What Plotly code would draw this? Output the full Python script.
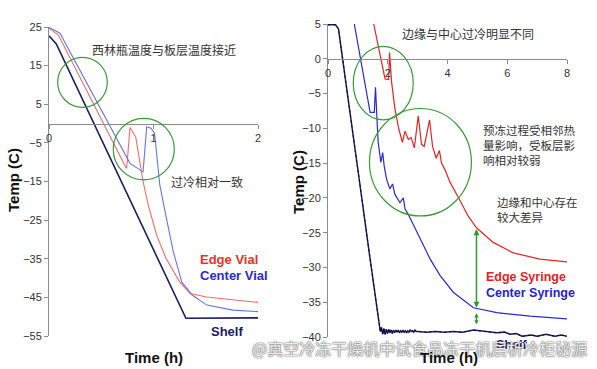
import plotly.graph_objects as go

# ---------------- data: left chart (vials) ----------------
vial_edge_t = [0, 0.09, 0.74, 0.745, 0.775, 0.83, 0.90, 0.95, 1.03, 1.12, 1.25, 1.35, 1.51, 1.76, 2.0]
vial_edge_T = [24.7, 22.9, -11.6, -11.0, -1.0, -3.5, -15.0, -21.1, -28.9, -34.9, -41.0, -44.0, -44.9, -45.7, -46.3]

vial_center_t = [0, 0.105, 0.775, 0.90, 0.935, 0.976, 1.01, 1.06, 1.13, 1.19, 1.27, 1.37, 1.51, 1.76, 2.0]
vial_center_T = [24.9, 23.4, -10.3, -12.5, -0.8, -1.2, -2.5, -15.9, -25.4, -33.2, -41.0, -44.4, -47.0, -48.3, -48.7]

vial_shelf_t = [0, 0.07, 1.31, 2.0]
vial_shelf_T = [22.7, 20.6, -50.4, -50.3]

# ---------------- data: right chart (syringes) ----------------
syr_edge_t = [1.53, 1.91, 2.03, 2.06, 2.13, 2.24, 2.37, 2.49, 2.58, 2.69, 2.78, 2.89, 3.02, 3.13, 3.22,
              3.40, 3.50, 3.62, 3.73, 3.80, 3.91, 4.08, 4.36, 4.69, 4.97, 5.53, 6.2, 7.09, 8.0]
syr_edge_T = [5.0, -2.9, -3.0, 0.9, -3.4, -7.2, -10.1, -12.0, -10.4, -11.6, -11.3, -12.8, -8.2, -12.3, -12.6,
              -8.8, -12.6, -14.3, -13.2, -15.0, -15.9, -17.7, -19.9, -22.6, -24.3, -26.4, -27.9, -28.8, -29.2]

syr_center_t = [0.88, 1.41, 1.55, 1.59, 1.65, 1.68, 1.77, 1.83, 1.88, 1.96, 2.07, 2.16, 2.24, 2.41, 2.52,
                2.58, 2.69, 3.09, 3.42, 3.76, 4.2, 4.87, 5.65, 6.77, 8.0]
syr_center_T = [5.0, -7.7, -7.7, -4.1, -9.6, -12.0, -14.9, -13.5, -15.4, -17.3, -18.7, -18.0, -19.5, -20.7, -20.0,
                -21.6, -22.4, -25.9, -28.8, -31.2, -33.6, -35.8, -36.5, -37.0, -37.4]

syr_shelf_t = [0, 0.25, 0.35, 0.74, 1.05, 1.40, 1.75,
               1.79, 1.83, 1.87, 1.91, 1.95, 1.99, 2.03, 2.07, 2.11, 2.15, 2.19, 2.23, 2.27, 2.31, 2.35,
               2.39, 2.43, 2.47, 2.51, 2.55, 2.59, 2.63, 2.67, 2.71, 2.75, 2.79, 2.83, 2.87, 2.91, 2.95, 3.0,
               3.3, 3.6, 3.9, 4.2, 4.5, 4.87, 5.2, 5.65, 5.9, 6.1, 6.3, 6.5, 6.8, 7.0, 7.3, 7.6, 7.8, 8.0]
syr_shelf_T = [4.9, 4.9, 4.3, -7.5, -17.5, -28.5, -39.2,
               -38.6, -39.6, -38.8, -39.6, -38.9, -39.5, -38.9, -39.4, -39.0, -39.5, -39.0, -39.4, -39.0, -39.3, -39.0,
               -39.4, -39.1, -39.3, -39.0, -39.3, -39.1, -39.4, -39.1, -39.3, -39.0, -39.2, -39.1, -39.3, -39.0, -39.2, -39.2,
               -39.3, -39.2, -39.3, -39.2, -39.3, -39.0, -39.2, -39.4, -39.3, -39.6, -39.5, -39.9, -39.7, -39.9, -39.6, -39.9, -39.7, -39.9]

# gap arrows (time, from-temp, to-temp)
gap_t = 4.97
gap1 = [-24.5, -36.0]
gap2 = [-36.6, -38.4]

left_xticks = [0, 1, 2]
left_yticks = [25, 15, 5, -5, -15, -25, -35, -45, -55]
right_xticks = [0, 2, 4, 6, 8]
right_yticks = [5, 0, -5, -10, -15, -20, -25, -30, -35, -40]

# ---------------- layout helpers ----------------
W, H = 597, 369
def PX(x):
    return x / W
def PY(y):
    return 1 - y / H

L_xdom = [PX(49), PX(258)]
L_ydom = [PY(336), PY(27)]
L_yr = [-55, 25]
R_xdom = [PX(328), PX(567)]
R_ydom = [PY(337), PY(24)]
R_yr = [-40, 5]

def zero_pos(dom, rng):
    return dom[0] + (0 - rng[0]) / (rng[1] - rng[0]) * (dom[1] - dom[0])

RED_L = "#ef6b6b"
BLUE_L = "#6676e6"
NAVY = "#1d1d64"
RED_R = "#e02626"
BLUE_R = "#2a2ad2"
GREEN = "#3b9a3b"
AX = "#8c8c8c"
FONT = "Arial, Liberation Sans, sans-serif"
CJK = "Noto Sans CJK SC, sans-serif"

fig = go.Figure()
fig.add_trace(go.Scatter(x=vial_shelf_t, y=vial_shelf_T, mode="lines", line=dict(color=NAVY, width=1.6), xaxis="x", yaxis="y"))
fig.add_trace(go.Scatter(x=vial_edge_t, y=vial_edge_T, mode="lines", line=dict(color=RED_L, width=1.1), xaxis="x", yaxis="y"))
fig.add_trace(go.Scatter(x=vial_center_t, y=vial_center_T, mode="lines", line=dict(color=BLUE_L, width=1.1), xaxis="x", yaxis="y"))

fig.add_trace(go.Scatter(x=syr_shelf_t, y=syr_shelf_T, mode="lines", line=dict(color=NAVY, width=1.5), xaxis="x2", yaxis="y2"))
fig.add_trace(go.Scatter(x=syr_shelf_t, y=syr_shelf_T, mode="lines", line=dict(color="#05051a", width=1.0, dash="2px,3px"), xaxis="x2", yaxis="y2"))
fig.add_trace(go.Scatter(x=syr_edge_t, y=syr_edge_T, mode="lines", line=dict(color=RED_R, width=1.2), xaxis="x2", yaxis="y2"))
fig.add_trace(go.Scatter(x=syr_center_t, y=syr_center_T, mode="lines", line=dict(color=BLUE_R, width=1.2), xaxis="x2", yaxis="y2"))

axis_common = dict(showgrid=False, zeroline=False, showline=True, linecolor=AX, linewidth=1,
                   ticks="outside", ticklen=4, tickcolor=AX, tickwidth=1, automargin=False,
                   tickfont=dict(family=FONT, size=11, color="#333333"))

fig.update_layout(
    width=W, height=H, margin=dict(l=0, r=0, t=0, b=0, pad=0, autoexpand=False),
    paper_bgcolor="white", plot_bgcolor="rgba(0,0,0,0)", showlegend=False,
    xaxis=dict(domain=L_xdom, range=[0, 2], tickvals=left_xticks, anchor="free",
               position=zero_pos(L_ydom, L_yr), **axis_common),
    yaxis=dict(domain=L_ydom, range=L_yr, tickvals=left_yticks, anchor="x", **axis_common),
    xaxis2=dict(domain=R_xdom, range=[0, 8], tickvals=right_xticks, anchor="free",
                position=zero_pos(R_ydom, R_yr), **axis_common),
    yaxis2=dict(domain=R_ydom, range=R_yr, tickvals=right_yticks, anchor="x2", **axis_common),
)

# circles (data coordinates)
circles = [
    ("x", "y", 0.083, 0.558, 4.2, 17.15),
    ("x", "y", 0.615, 1.199, -14.6, 1.35),
    ("x2", "y2", 0.846, 2.853, -8.78, 1.77),
    ("x2", "y2", 1.388, 4.80, -22.6, -7.15),
]
for xr, yr, x0, x1, y0, y1 in circles:
    fig.add_shape(type="circle", xref=xr, yref=yr, x0=x0, x1=x1, y0=y0, y1=y1,
                  line=dict(color=GREEN, width=1.2))

# double-headed gap arrows
for (a, b), sz in ((gap1, 0.8), (gap2, 0.55)):
    fig.add_annotation(x=gap_t, y=a, ax=gap_t, ay=b, xref="x2", yref="y2", axref="x2", ayref="y2",
                       text="", showarrow=True, arrowhead=2, arrowsize=sz, arrowwidth=1.5,
                       arrowcolor="#2f9a2f", arrowside="end+start", standoff=0, startstandoff=0)

def txt(text, x, y, size, color, family, bold=False, xanchor="center", yanchor="middle", align="center", angle=0):
    if bold:
        text = "<b>" + text + "</b>"
    fig.add_annotation(x=PX(x), y=PY(y), xref="paper", yref="paper", text=text, showarrow=False,
                       xanchor=xanchor, yanchor=yanchor, align=align, textangle=angle,
                       font=dict(family=family, size=size, color=color))

txt("西林瓶温度与板层温度接近", 164, 50, 12, "#333333", CJK)
txt("过冷相对一致", 207, 181, 12, "#333333", CJK)
txt("Edge Vial", 198, 259, 13, "#e8322c", FONT, bold=True, xanchor="left")
txt("Center Vial", 198, 275, 13, "#2b2bd0", FONT, bold=True, xanchor="left")
txt("Shelf", 209, 331, 13, "#1b1b5e", FONT, bold=True, xanchor="left")

txt("边缘与中心过冷明显不同", 468, 33, 12, "#333333", CJK)
txt("预冻过程受相邻热<br>量影响，受板层影<br>响相对较弱", 481, 144.5, 11.5, "#333333", CJK, xanchor="left", align="left")
txt("边缘和中心存在<br>较大差异", 495, 209, 11.5, "#333333", CJK, xanchor="left", align="left")
txt("Edge Syringe", 484, 277, 12.5, "#e02424", FONT, bold=True, xanchor="left")
txt("Center Syringe", 484, 293, 12.5, "#2424c8", FONT, bold=True, xanchor="left")
txt("Shelf", 494, 345, 12.5, "#1b1b5e", FONT, bold=True, xanchor="left")

txt("Temp (C)", 13, 180, 15, "#111111", FONT, bold=True, angle=-90)
txt("Temp (C)", 298, 182, 15, "#111111", FONT, bold=True, angle=-90)
txt("Time (h)", 154, 357, 15, "#111111", FONT, bold=True)

# watermark
fig.add_annotation(x=PX(250), y=PY(348), xref="paper", yref="paper", showarrow=False,
                   text="@真空冷冻干燥机中试食品冻干机层析冷柜秘源", xanchor="left", yanchor="middle",
                   font=dict(family=CJK, size=16, color="rgba(250,250,250,0.92)",
                             shadow="0px 0px 1.5px #555, 0px 0px 1.5px #555"))
txt("Time (h)", 449, 357, 15, "#111111", FONT, bold=True)

fig.write_html("out.html", config={"displayModeBar": False},
               post_script="document.body.style.margin='0';document.body.style.padding='0';")
